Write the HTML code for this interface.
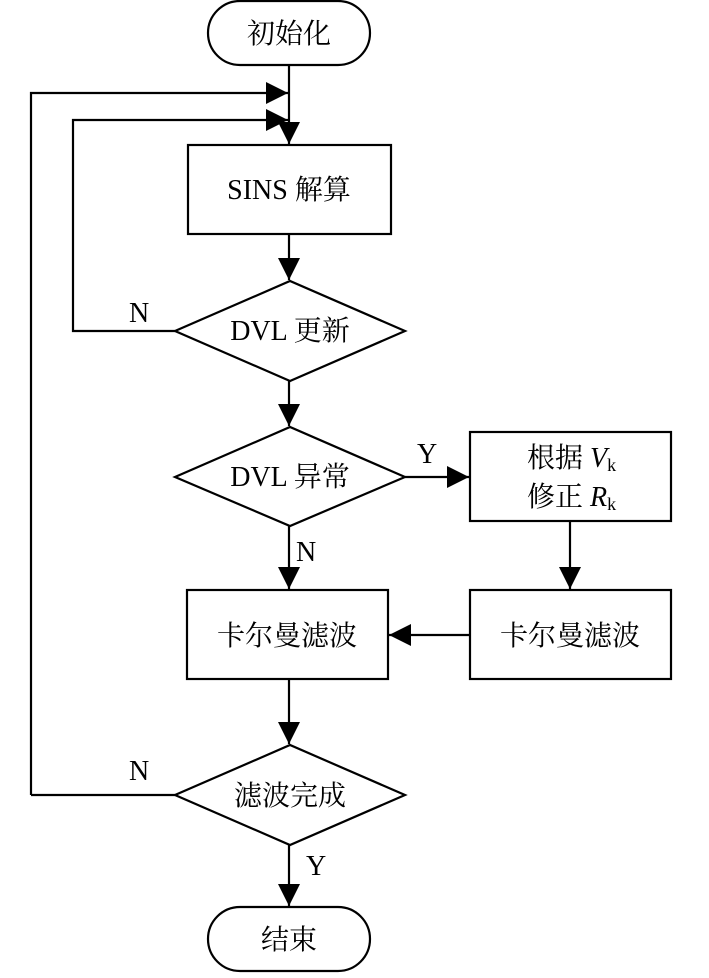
<!DOCTYPE html>
<html><head><meta charset="utf-8"><style>
html,body{margin:0;padding:0;background:#fff;}
svg text{font-family:"Liberation Serif","Noto Serif CJK SC",serif;font-size:28px;fill:#000;}
</style></head><body>
<svg width="709" height="973" viewBox="0 0 709 973" xmlns="http://www.w3.org/2000/svg">
<defs>
<marker id="b" markerWidth="24" markerHeight="24" refX="22" refY="11" orient="auto" markerUnits="userSpaceOnUse">
<path d="M0,0 L22,11 L0,22 z" fill="#000"/></marker>
</defs>
<g stroke="#000" stroke-width="2.2" fill="none">
<rect x="208" y="1" width="162" height="64" rx="32"/>
<rect x="188" y="145" width="203" height="89"/>
<polygon points="175,331 290,281 405,331 290,381"/>
<polygon points="175,477 290,427 405,477 290,526"/>
<rect x="470" y="432" width="201" height="89"/>
<rect x="470" y="590" width="201" height="89"/>
<rect x="187" y="590" width="201" height="89"/>
<polygon points="175,795 290,745 405,795 290,845"/>
<rect x="208" y="907" width="162" height="64" rx="32"/>
<line x1="289" y1="65" x2="289" y2="144" marker-end="url(#b)"/>
<polyline points="31,795 175,795"/>
<polyline points="31,795 31,93 288,93" marker-end="url(#b)"/>
<polyline points="175,331 73,331 73,120 288,120" marker-end="url(#b)"/>
<line x1="289" y1="234" x2="289" y2="280" marker-end="url(#b)"/>
<line x1="289" y1="381" x2="289" y2="426" marker-end="url(#b)"/>
<line x1="405" y1="477" x2="469" y2="477" marker-end="url(#b)"/>
<line x1="570" y1="521" x2="570" y2="589" marker-end="url(#b)"/>
<line x1="470" y1="635" x2="389" y2="635" marker-end="url(#b)"/>
<line x1="289" y1="526" x2="289" y2="589" marker-end="url(#b)"/>
<line x1="289" y1="679" x2="289" y2="744" marker-end="url(#b)"/>
<line x1="289" y1="845" x2="289" y2="906" marker-end="url(#b)"/>
</g>
<text x="289" y="43" text-anchor="middle">初始化</text>
<text x="289" y="199" text-anchor="middle">SINS 解算</text>
<text x="290" y="340" text-anchor="middle">DVL 更新</text>
<text x="290" y="486" text-anchor="middle">DVL 异常</text>
<text x="527" y="467">根据 <tspan font-style="italic">V</tspan><tspan font-size="18" dy="4">k</tspan></text>
<text x="527" y="506">修正 <tspan font-style="italic">R</tspan><tspan font-size="18" dy="4">k</tspan></text>
<text x="570" y="645" text-anchor="middle">卡尔曼滤波</text>
<text x="287" y="645" text-anchor="middle">卡尔曼滤波</text>
<text x="290" y="805" text-anchor="middle">滤波完成</text>
<text x="289" y="949" text-anchor="middle">结束</text>
<text x="129" y="322">N</text>
<text x="417" y="463">Y</text>
<text x="296" y="561">N</text>
<text x="129" y="780">N</text>
<text x="306" y="875">Y</text>
</svg>
</body></html>
